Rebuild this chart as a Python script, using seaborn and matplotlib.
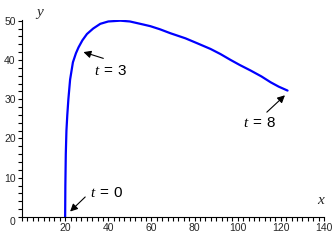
import matplotlib
matplotlib.use("Agg")
import matplotlib.pyplot as plt
import seaborn as sns
import pandas as pd
from matplotlib.ticker import MultipleLocator

# Curve data
x_vals = [20, 20.1, 20.3, 20.6, 21, 21.5, 22.3, 23.6, 25, 26.2, 28, 30.1, 33, 36.3, 40,
          45.6, 50, 56.4, 59.5, 64, 68.8, 75.8, 81, 87.4, 92, 96.7, 101, 106, 111, 115.3, 119, 123.1]
y_vals = [0, 8, 16, 22, 26, 30, 35, 39.4, 41.7, 43.2, 45, 46.6, 48, 49.2, 49.8,
          50, 49.8, 49.0, 48.6, 47.8, 46.8, 45.5, 44.3, 42.8, 41.5, 40.0, 38.7, 37.3, 35.8, 34.3, 33.2, 32.2]

# Annotations
ann_labels = ["0", "3", "8"]
ann_points = [(22.3, 1.4), (28.5, 42.0), (121.9, 31.0)]
ann_tails = [(29.3, 5.1), (37.7, 40.4), (113.5, 26.7)]
ann_text = [(39.3, 6.1), (40.9, 37.1), (110.3, 23.9)]

x_ticks = [20, 40, 60, 80, 100, 120, 140]
y_ticks = [0, 10, 20, 30, 40, 50]
origin_label = "0"

sns.set_style("ticks")
plt.rcParams['font.family'] = ['Liberation Sans', 'DejaVu Sans']
plt.rcParams['mathtext.fontset'] = 'custom'
plt.rcParams['mathtext.rm'] = 'Liberation Sans'
plt.rcParams['mathtext.it'] = 'Liberation Serif:italic'

fig = plt.figure(figsize=(3.36, 2.44), dpi=100)
ax = fig.add_axes([22/336, 27/244, 302/336, 197.5/244])

df = pd.DataFrame({"x": x_vals, "y": y_vals})
sns.lineplot(data=df, x="x", y="y", sort=False, estimator=None, color=(0, 0, 1),
             linewidth=1.6, ax=ax)

ax.set_xlim(0, 140)
ax.set_ylim(0, 50.3)
ax.set_xticks(x_ticks)
ax.set_yticks(y_ticks)
ax.xaxis.set_minor_locator(MultipleLocator(2.5))
ax.yaxis.set_minor_locator(MultipleLocator(2))
ax.set_xticklabels([str(v) for v in x_ticks])
ax.set_yticklabels(["" if v == 0 else str(v) for v in y_ticks])
ax.tick_params(axis='both', which='both', direction='out', length=3, width=0.8,
               color='black', labelsize=7.5, pad=1.5, bottom=True, left=True)
for s in ['top', 'right']:
    ax.spines[s].set_visible(False)
for s in ['left', 'bottom']:
    ax.spines[s].set_color('black')
    ax.spines[s].set_linewidth(0.8)
ax.set_xlabel("")
ax.set_ylabel("")

ax.text(-4.2, -1.4, origin_label, fontsize=7.5, ha='center', va='center', clip_on=False)

for lab, p, tl, tx in zip(ann_labels, ann_points, ann_tails, ann_text):
    ax.annotate("", xy=p, xytext=tl,
                arrowprops=dict(arrowstyle='-|>', color='black', lw=0.8,
                                mutation_scale=11, shrinkA=0, shrinkB=0))
    ax.text(tx[0], tx[1], r"$t\;=\;\mathrm{" + lab + "}$", fontsize=11,
            ha='center', va='center', color='black')

ax.text(8.4, 52.2, "y", fontsize=11, family='Liberation Serif', style='italic',
        ha='center', va='center', clip_on=False)
ax.text(138.6, 4.3, "x", fontsize=11, family='Liberation Serif', style='italic',
        ha='center', va='center', clip_on=False)

fig.savefig("out.png", dpi=100)
